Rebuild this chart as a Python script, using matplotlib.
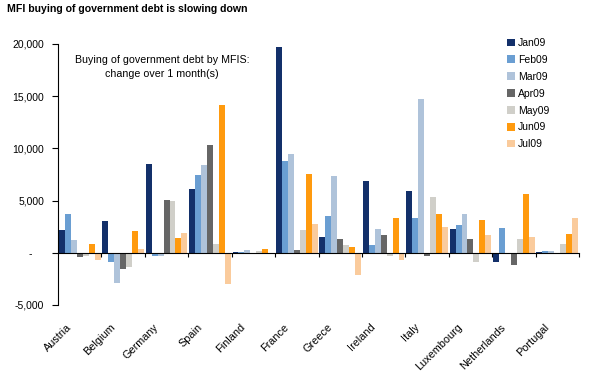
import matplotlib.pyplot as plt
import numpy as np
from matplotlib.patches import Patch
from matplotlib.transforms import ScaledTranslation

plt.rcParams['font.family'] = ['Liberation Sans', 'DejaVu Sans']

countries = ['Austria', 'Belgium', 'Germany', 'Spain', 'Finland', 'France',
             'Greece', 'Ireland', 'Italy', 'Luxembourg', 'Netherlands', 'Portugal']
months = ['Jan09', 'Feb09', 'Mar09', 'Apr09', 'May09', 'Jun09', 'Jul09']

jan = [2200, 3040, 8510, 6140, 30, 19700, 1490, 6870, 5920, 2310, -920, 50]
feb = [3730, -920, -320, 7470, 100, 8770, 3540, 700, 3350, 2690, 2370, 220]
mar = [1270, -2850, -300, 8420, 290, 9430, 7370, 2310, 14750, 3730, 0, 220]
apr = [-410, -1580, 5090, 10320, 0, 250, 1300, 1680, -320, 1360, -1200, 0]
may = [-300, -1390, 4970, 820, 190, 2150, 790, -320, 5350, -890, 1330, 850]
jun = [890, 2090, 1390, 14200, 320, 7560, 600, 3350, 3730, 3160, 5600, 1840]
jul = [-700, 350, 1870, -2980, -100, 2720, -2120, -700, 2500, 1740, 1520, 3300]

series = [jan, feb, mar, apr, may, jun, jul]
colors = ['#13306A', '#6A9ED2', '#AFC3DA', '#666666', '#D0CFC9', '#FF9A0E', '#FACB9C']

yticks = [-5000, 0, 5000, 10000, 15000, 20000]
ytick_labels = ['-5,000', '-    ', '5,000', '10,000', '15,000', '20,000']

W, H = 589, 371
fig = plt.figure(figsize=(W / 100, H / 100), dpi=100)
ax = fig.add_axes([58 / W, 1 - 305 / H, (579 - 58) / W, (305 - 44) / H])

x = np.arange(len(countries))
w = 0.96 / len(series)
for j, (vals, c) in enumerate(zip(series, colors)):
    ax.bar(x + (j - 3) * w, vals, width=w, color=c, linewidth=0)

ax.set_xlim(-0.5, len(countries) - 0.5)
ax.set_ylim(-5000, 20000)

# axes look like excel: y axis left, x axis line at zero
for s in ['top', 'right']:
    ax.spines[s].set_visible(False)
ax.spines['bottom'].set_position(('data', 0))
ax.spines['left'].set_linewidth(0.8)
ax.spines['bottom'].set_linewidth(0.8)

ax.set_yticks(yticks)
ax.set_yticklabels(ytick_labels, fontsize=7.5)
ax.tick_params(axis='y', length=4, width=0.8, pad=6)
ax.set_xticks(np.arange(0.5, len(countries) - 0.4, 1))
ax.set_xticklabels([])
ax.tick_params(axis='x', direction='out', length=3, width=0.8)

off = ScaledTranslation(-6 / 100, -17 / 100, fig.dpi_scale_trans)
for i, name in enumerate(countries):
    ax.text(i, 0, name, transform=ax.get_xaxis_transform() + off,
            rotation=45, ha='right', va='top', fontsize=7.8)

ax.text(162 / W, 1 - 67 / H, 'Buying of government debt by MFIS:\nchange over 1 month(s)',
        transform=fig.transFigure, ha='center', va='center', fontsize=7.7, linespacing=1.45)

handles = [Patch(facecolor=c, edgecolor='none') for c in colors]
fig.legend(handles, months, loc='upper left', bbox_to_anchor=(507 / W, 1 - 38 / H),
           bbox_transform=fig.transFigure, frameon=False, fontsize=7.5,
           handlelength=0.75, handleheight=0.75, handletextpad=0.3,
           labelspacing=0.66, borderpad=0, borderaxespad=0)

fig.text(7 / W, 1 - 9.5 / H, 'MFI buying of government debt is slowing down',
         fontsize=7.6, fontweight='bold', va='center', ha='left')

fig.savefig('out.png', dpi=100)
